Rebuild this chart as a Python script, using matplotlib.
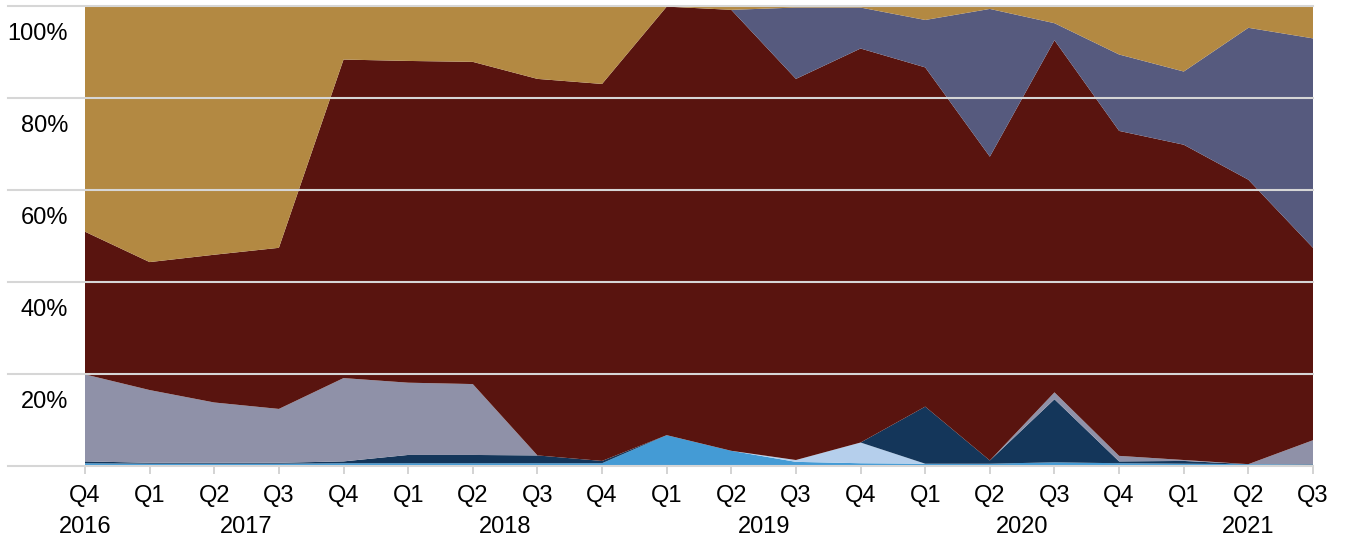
import numpy as np
import matplotlib
matplotlib.use("Agg")
from matplotlib import pyplot as plt
from matplotlib import transforms

plt.rcParams['font.family'] = ['Liberation Sans', 'DejaVu Sans']

## quarters Q4 2016 .. Q3 2021
quarters = ['Q4', 'Q1', 'Q2', 'Q3', 'Q4', 'Q1', 'Q2', 'Q3', 'Q4', 'Q1',
            'Q2', 'Q3', 'Q4', 'Q1', 'Q2', 'Q3', 'Q4', 'Q1', 'Q2', 'Q3']
years = ['2016', '2017', '2018', '2019', '2020', '2021']
year_pos = [0, 2.5, 6.5, 10.5, 14.5, 18]

# shares in %, bottom layer first
blue  = [0.6, 0.5, 0.5, 0.5, 0.6, 0.6, 0.6, 0.6, 0.6, 6.7, 3.3, 0.9, 0.6, 0.5, 0.5, 0.8, 0.6, 0.5, 0.4, 0.3]
pale  = [0, 0, 0, 0, 0, 0, 0, 0, 0, 0, 0, 0.4, 4.5, 0, 0, 0, 0, 0, 0, 0]
navy  = [0.4, 0.2, 0.2, 0.2, 0.4, 1.8, 1.8, 1.7, 0.5, 0, 0, 0, 0, 12.4, 0.7, 13.7, 0.4, 0.6, 0.0, 0.1]
gray  = [18.9, 15.8, 13.1, 11.7, 18.1, 15.7, 15.4, 0, 0, 0, 0, 0, 0, 0, 0, 1.5, 1.2, 0.2, 0, 5.2]
red   = [31.0, 27.8, 32.1, 35.0, 69.2, 69.9, 70.0, 81.8, 81.9, 93.1, 95.8, 82.8, 85.6, 73.7, 66.0, 76.5, 70.6, 68.5, 61.8, 41.8]
slate = [0, 0, 0, 0, 0, 0, 0, 0, 0, 0, 0, 15.5, 8.9, 10.3, 32.1, 3.7, 16.6, 15.9, 33.0, 45.5]
gold  = [49.1, 55.7, 54.1, 52.6, 11.7, 12.0, 12.2, 15.9, 17.0, 0.2, 0.9, 0.4, 0.4, 3.1, 0.7, 3.8, 10.6, 14.3, 4.8, 7.1]

colors = ['#449bd5', '#b5cfec', '#14365a', '#8f91a8', '#59140f', '#565a7e', '#b38942']

x = np.arange(len(quarters))
fig = plt.figure(figsize=(13.48, 5.42), dpi=100)
ax = fig.add_axes([85/1348, 1-466/542, (1313-85)/1348, (466-5.7)/542])

ax.stackplot(x, blue, pale, navy, gray, red, slate, gold, colors=colors, linewidth=0)
ax.set_xlim(0, len(x)-1)
ax.set_ylim(0, 100)

# grid lines run out to the left edge, under the labels
ytr = ax.get_yaxis_transform()
x0 = -(85 - 8) / 1228
for v in [0, 20, 40, 60, 80, 100]:
    ax.plot([x0, 1], [v, v], transform=ytr, color='#d6d6d6', lw=1.5, zorder=5, clip_on=False)

for s in ax.spines.values():
    s.set_visible(False)

ax.set_yticks([])
ax.set_xticks(x)
ax.set_xticklabels(quarters, fontsize=17)
ax.tick_params(axis='x', length=6, width=1.2, color='#cccccc', pad=8)

# y labels sit below their grid lines
off = transforms.offset_copy(ytr, fig=fig, x=-17, y=-28, units='dots')
for v in [20, 40, 60, 80, 100]:
    ax.text(0, v, '%d%%' % v, transform=off, ha='right', va='center', fontsize=17)

yoff = transforms.offset_copy(ax.get_xaxis_transform(), fig=fig, x=0, y=-61, units='dots')
for p, yr in zip(year_pos, years):
    ax.text(p, 0, yr, transform=yoff, ha='center', va='center', fontsize=17)

fig.savefig('out.png', dpi=100)
